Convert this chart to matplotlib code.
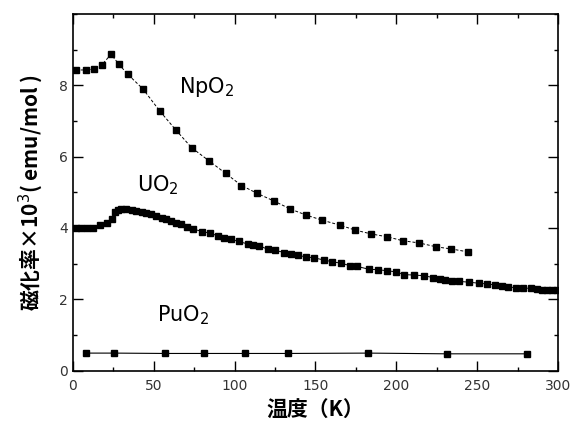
import numpy as np
import matplotlib
matplotlib.use("Agg")
import matplotlib.pyplot as plt
from matplotlib.ticker import MultipleLocator

plt.rcParams['font.family'] = ['Noto Sans CJK JP', 'DejaVu Sans']

# NpO2
t_np = [2, 8.3, 13.2, 18, 23.7, 28.6, 34, 43.4, 53.8, 63.7, 73.5, 84, 94.5, 104.3,
        114, 124.6, 134.5, 144.3, 154, 165, 174.5, 184.6, 194.5, 204, 214, 224.6,
        234, 244]
chi_np = [8.43, 8.43, 8.45, 8.57, 8.87, 8.59, 8.31, 7.90, 7.28, 6.75, 6.25, 5.89,
          5.53, 5.19, 4.97, 4.75, 4.53, 4.36, 4.22, 4.08, 3.94, 3.83, 3.75, 3.64,
          3.58, 3.47, 3.41, 3.33]

# UO2
t_u = [2.0, 5.2, 8.7, 12.4, 16.9, 21.0, 24.1, 26.2, 27.8, 29.8, 32.9, 36.4, 39, 42.6,
       45.2, 48.7, 51.4, 54.9, 57.5, 61, 63.7, 67.2, 70.5, 74.2, 80.1, 85.0, 89.7,
       93.8, 98, 102.6, 108.2, 111.7, 115.4, 120.5, 125.2, 130.8, 134.9, 139, 144.1,
       149.2, 155.4, 160.5, 166, 171.4, 175.9, 183.1, 188.6, 194, 199.5, 205, 210.8,
       216.9, 222.6, 227.2, 230.3, 234.3, 238.9, 244.6, 250.8, 255.9, 261, 265.1,
       269.2, 273.7, 278.5, 283.2, 286.6, 289.7, 292.8, 295.9, 299]
chi_u = [4.01, 4.01, 4.01, 4.01, 4.08, 4.15, 4.25, 4.44, 4.51, 4.53, 4.53, 4.51, 4.48,
         4.45, 4.42, 4.38, 4.34, 4.29, 4.25, 4.19, 4.15, 4.10, 4.04, 3.97, 3.90, 3.85,
         3.78, 3.71, 3.68, 3.62, 3.55, 3.53, 3.50, 3.40, 3.37, 3.31, 3.26, 3.23, 3.19,
         3.16, 3.10, 3.05, 3.01, 2.94, 2.92, 2.84, 2.83, 2.80, 2.77, 2.69, 2.68, 2.66,
         2.61, 2.57, 2.55, 2.52, 2.50, 2.48, 2.45, 2.43, 2.40, 2.38, 2.35, 2.32, 2.31,
         2.31, 2.29, 2.27, 2.26, 2.26, 2.26]

# PuO2
t_pu = [8, 25.7, 57, 81.4, 106.5, 133, 182.5, 231, 280.5]
chi_pu = [0.49, 0.49, 0.48, 0.48, 0.48, 0.48, 0.49, 0.47, 0.47]

fig = plt.figure(figsize=(5.72, 4.37), dpi=100)
ax = fig.add_axes([0.127, 0.152, 0.849, 0.816])

ax.plot(t_np, chi_np, color='black', lw=0.7, ls=(0, (3, 2)), marker='s', ms=4.5)
ax.plot(t_u, chi_u, color='black', lw=0.7, marker='s', ms=4.5)
ax.plot(t_pu, chi_pu, color='black', lw=0.8, marker='s', ms=4.5)

lab_font = dict(fontsize=15, family='DejaVu Sans', ha='center', va='center')
ax.text(83, 7.95, 'NpO$_2$', **lab_font)
ax.text(52.5, 5.2, 'UO$_2$', **lab_font)
ax.text(68, 1.55, 'PuO$_2$', **lab_font)

ax.set_xlim(0, 300)
ax.set_ylim(0, 10)
ax.set_xticks([0, 50, 100, 150, 200, 250, 300])
ax.set_yticks([0, 2, 4, 6, 8])
ax.xaxis.set_minor_locator(MultipleLocator(25))
ax.yaxis.set_minor_locator(MultipleLocator(1))
ax.tick_params(which='both', direction='in', top=True, right=True, width=1,
               labelsize=10, labelcolor='#333333')
ax.tick_params(which='major', length=7)
ax.tick_params(which='minor', length=3)
ax.tick_params(axis='x', pad=6)
for lab in ax.get_xticklabels() + ax.get_yticklabels():
    lab.set_family(['DejaVu Sans'])
for s in ax.spines.values():
    s.set_linewidth(1.2)

ax.set_xlabel('温度（K）', fontsize=15, fontweight='bold', labelpad=5)
ax.set_ylabel('磁化率×10$^3$( emu/mol )', fontsize=15, fontweight='bold', labelpad=10)

fig.savefig('out.png', dpi=100)
